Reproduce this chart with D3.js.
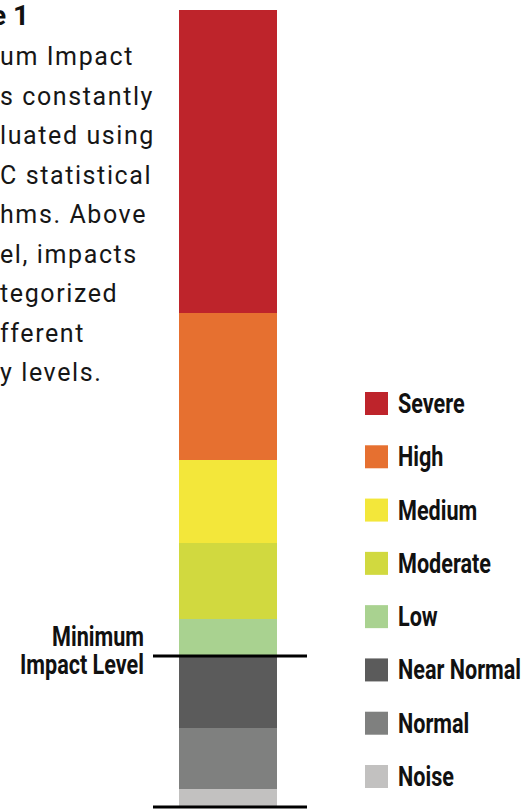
<!DOCTYPE html>
<html>
<head>
<meta charset="utf-8">
<script src="https://cdn.jsdelivr.net/npm/d3@7"></script>
<style>
  body { margin: 0; background: #fff; }
  svg { display: block; }
</style>
</head>
<body>
<svg id="chart" width="526" height="810"></svg>
<script>
// levels, bottom to top, with their heights in the stacked bar
var levels = ["Noise", "Normal", "Near Normal", "Low", "Moderate", "Medium", "High", "Severe"];
var heights = [18, 61, 72, 37, 76, 83, 147, 303];
var colors = ["#c2c1c0", "#7f807f", "#5b5b5b", "#a9d290", "#d1d93f", "#f3e73a", "#e67030", "#be242b"];

// legend reads top to bottom
var legendOrder = ["Severe", "High", "Medium", "Moderate", "Low", "Near Normal", "Normal", "Noise"];

// visible part of the caption (cut off at the left edge)
var captionTitle = "e 1";
var captionLines = ["um Impact", "s constantly", "luated using", "C statistical",
    "hms. Above", "el, impacts", "tegorized", "fferent", "y levels."];

var thresholdLevel = "Low"; // minimum impact level sits under this one
var thresholdLabel = ["Minimum", "Impact Level"];

var svg = d3.select("#chart");

var total = d3.sum(heights);
var y = d3.scaleLinear().domain([0, total]).range([807, 10]);

var stack = [];
var acc = 0;
levels.forEach(function(l, i) {
    stack.push({ name: l, y0: acc, y1: acc + heights[i], color: colors[i] });
    acc += heights[i];
});

var colorOf = d3.scaleOrdinal().domain(levels).range(colors);

// bar
svg.append("g").selectAll("rect")
    .data(stack)
    .enter()
    .append("rect")
    .attr("x", 179)
    .attr("width", 98)
    .attr("y", function(d) { return y(d.y1); })
    .attr("height", function(d) { return y(d.y0) - y(d.y1); })
    .style("fill", function(d) { return d.color; });

// lines: minimum impact level and base
var minVal = stack[levels.indexOf(thresholdLevel)].y0;
svg.append("g").selectAll("line")
    .data([minVal, 0])
    .enter()
    .append("line")
    .attr("x1", 153)
    .attr("x2", 307)
    .attr("y1", function(d) { return y(d); })
    .attr("y2", function(d) { return y(d); })
    .attr("stroke", "#000")
    .attr("stroke-width", 3);

// condensed bold look: Roboto bold squeezed horizontally
var bold = "Roboto, 'DejaVu Sans', sans-serif";
var squeeze = 0.8;

svg.append("g").selectAll("text")
    .data(thresholdLabel)
    .enter()
    .append("text")
    .attr("transform", function(d, i) {
        return "translate(144," + (y(minVal) - 10 + i * 28) + ") scale(" + squeeze + ",1)";
    })
    .attr("text-anchor", "end")
    .attr("font-family", bold)
    .attr("font-weight", "bold")
    .attr("font-size", "27px")
    .attr("fill", "#111")
    .text(function(d) { return d; });

// caption
svg.append("text")
    .attr("x", -9)
    .attr("y", 25)
    .attr("font-family", "Roboto, sans-serif")
    .attr("font-weight", "bold")
    .attr("font-size", "28px")
    .attr("fill", "#111")
    .text(captionTitle);

svg.append("g").selectAll("text")
    .data(captionLines)
    .enter()
    .append("text")
    .attr("x", 0)
    .attr("y", function(d, i) { return 65 + i * 39.5; })
    .attr("font-family", "Roboto, sans-serif")
    .attr("font-size", "25px")
    .attr("letter-spacing", "1.6px")
    .attr("fill", "#161616")
    .text(function(d) { return d; });

// legend
var ly = d3.scalePoint().domain(legendOrder).range([392, 765]);

var leg = svg.append("g").selectAll("g")
    .data(legendOrder)
    .enter()
    .append("g")
    .attr("transform", function(d) { return "translate(365," + ly(d) + ")"; });

leg.append("rect")
    .attr("width", 23)
    .attr("height", 23)
    .style("fill", function(d) { return colorOf(d); });

leg.append("text")
    .attr("transform", "translate(33,21) scale(" + squeeze + ",1)")
    .attr("font-family", bold)
    .attr("font-weight", "bold")
    .attr("font-size", "27px")
    .attr("fill", "#111")
    .text(function(d) { return d; });
</script>
</body>
</html>
